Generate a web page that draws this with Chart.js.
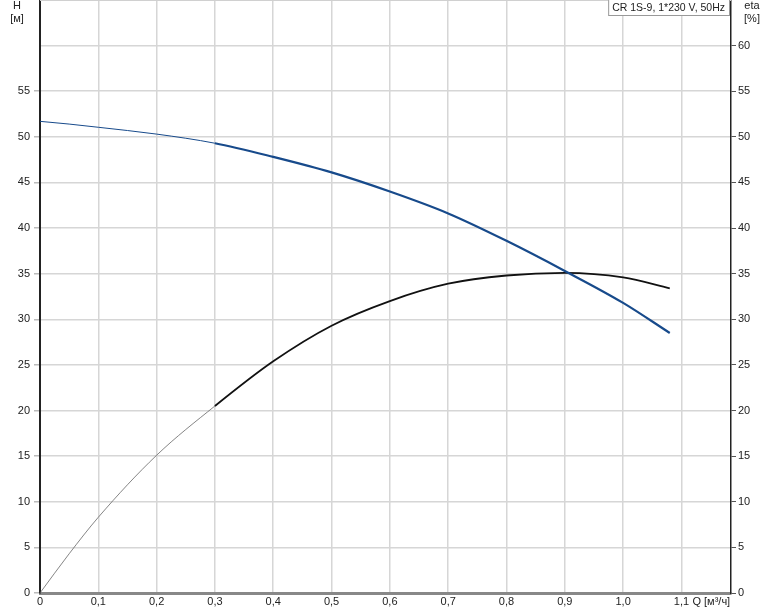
<!DOCTYPE html>
<html>
<head>
<meta charset="utf-8">
<script src="https://cdn.jsdelivr.net/npm/chart.js@4.4.1/dist/chart.umd.min.js"></script>
<style>
  html, body { margin: 0; padding: 0; background: #fff; }
  #wrap { width: 774px; height: 611px; position: relative; }
</style>
</head>
<body>
<div id="wrap"><canvas id="pumpCurve"></canvas></div>
<script>
// Q [м³/ч]
const qValues = [0, 0.05, 0.1, 0.2, 0.3, 0.4, 0.5, 0.6, 0.7, 0.8, 0.9, 1.0, 1.08];
// H [м]
const headValues = [51.7, 51.4, 51.05, 50.3, 49.3, 47.8, 46.1, 44.0, 41.6, 38.6, 35.3, 31.8, 28.5];
// eta [%]
const etaValues = [0, 4.3, 8.3, 15.1, 20.5, 25.4, 29.3, 32.0, 33.9, 34.8, 35.1, 34.6, 33.4];

const xTicks = [0, 0.1, 0.2, 0.3, 0.4, 0.5, 0.6, 0.7, 0.8, 0.9, 1.0, 1.1];
const yTicks = [0, 5, 10, 15, 20, 25, 30, 35, 40, 45, 50, 55, 60];
const leftLabelMax = 55;
const thinUntil = 0.3;

const titleText = 'CR 1S-9, 1*230 V, 50Hz';
const FONT = '"Liberation Sans", Arial, sans-serif';

function toPoints(ys) {
    return qValues.map((q, i) => ({ x: q, y: ys[i] }));
}

// убираем отступы, которые Chart.js резервирует под крайние подписи
function fixSize(prop, size) {
    return s => {
        s[prop] = size;
        s.paddingTop = 0;
        s.paddingBottom = 0;
        s.paddingLeft = 0;
        s.paddingRight = 0;
    };
}

// верхняя граница поля графика
const frameTop = {
    id: 'frameTop',
    beforeDatasetsDraw(chart) {
        const c = chart.ctx;
        const a = chart.chartArea;
        c.save();
        c.strokeStyle = '#d0d0d0';
        c.lineWidth = 2;
        c.beginPath();
        c.moveTo(a.left, a.top);
        c.lineTo(a.right, a.top);
        c.stroke();
        c.restore();
    }
};

const labelsPlugin = {
    id: 'labelsPlugin',
    afterDraw(chart) {
        const c = chart.ctx;
        const area = chart.chartArea;
        const xs = chart.scales.x;
        c.save();
        c.font = '11px ' + FONT;
        c.fillStyle = '#222';
        c.textBaseline = 'middle';

        // подписи осей
        c.textAlign = 'center';
        c.fillText('H', 17, 6);
        c.fillText('[м]', 17, 19);
        c.fillText('eta', 752, 6);
        c.fillText('[%]', 752, 19);

        c.textAlign = 'left';
        c.fillText('Q [м³/ч]', xs.getPixelForValue(1.1) + 11, 602);

        // рамка с названием
        c.font = '10.5px ' + FONT;
        const w = c.measureText(titleText).width + 8;
        const bx = area.right - w - 2;
        c.fillStyle = '#fff';
        c.fillRect(bx, -1, w, 16);
        c.strokeStyle = '#999';
        c.lineWidth = 1;
        c.strokeRect(bx + 0.5, -0.5, w, 16);
        c.fillStyle = '#222';
        c.textAlign = 'center';
        c.fillText(titleText, bx + w / 2, 8);
        c.restore();
    }
};

const ctx = document.getElementById('pumpCurve');
new Chart(ctx, {
    type: 'line',
    data: {
        datasets: [
            {
                label: 'H',
                data: toPoints(headValues),
                yAxisID: 'y',
                borderColor: '#174a8b',
                borderWidth: 2,
                pointRadius: 0,
                cubicInterpolationMode: 'monotone',
                segment: {
                    borderWidth: s => s.p0.parsed.x < thinUntil ? 1 : 2.2
                }
            },
            {
                label: 'eta',
                data: toPoints(etaValues),
                yAxisID: 'y',
                borderColor: '#111',
                borderWidth: 2,
                pointRadius: 0,
                cubicInterpolationMode: 'monotone',
                segment: {
                    borderWidth: s => s.p0.parsed.x < thinUntil ? 0.8 : 1.8,
                    borderColor: s => s.p0.parsed.x < thinUntil ? '#666' : '#111'
                }
            }
        ]
    },
    options: {
        responsive: true,
        maintainAspectRatio: false,
        animation: false,
        layout: { padding: 0 },
        plugins: {
            legend: { display: false },
            tooltip: { enabled: false }
        },
        scales: {
            x: {
                type: 'linear',
                min: 0,
                max: 1.185,
                afterBuildTicks: s => { s.ticks = xTicks.map(v => ({ value: v })); },
                afterFit: fixSize('height', 18),
                ticks: {
                    padding: 2,
                    maxRotation: 0,
                    autoSkip: false,
                    color: '#222',
                    font: { family: FONT, size: 11 },
                    callback: v => v === 0 ? '0' : v.toFixed(1).replace('.', ',')
                },
                grid: { color: '#d6d6d6', lineWidth: 1.5, drawTicks: false },
                border: { color: '#888', width: 3 }
            },
            y: {
                type: 'linear',
                position: 'left',
                min: 0,
                max: 65,
                afterBuildTicks: s => { s.ticks = yTicks.map(v => ({ value: v })); },
                afterFit: fixSize('width', 40),
                ticks: {
                    padding: 4,
                    autoSkip: false,
                    color: '#222',
                    font: { family: FONT, size: 11 },
                    callback: v => v <= leftLabelMax ? String(v) : ''
                },
                grid: {
                    color: '#d6d6d6',
                    lineWidth: 1.5,
                    tickLength: 6,
                    tickColor: c => c.tick && c.tick.value > leftLabelMax ? 'rgba(0,0,0,0)' : '#bbb'
                },
                border: { color: '#222', width: 2 }
            },
            y1: {
                type: 'linear',
                position: 'right',
                min: 0,
                max: 65,
                afterBuildTicks: s => { s.ticks = yTicks.map(v => ({ value: v })); },
                afterFit: fixSize('width', 43),
                ticks: {
                    padding: 2,
                    autoSkip: false,
                    color: '#222',
                    font: { family: FONT, size: 11 },
                    callback: v => String(v)
                },
                grid: {
                    drawOnChartArea: false,
                    tickLength: 5,
                    tickColor: '#555'
                },
                border: { color: '#222', width: 1.5 }
            }
        }
    },
    plugins: [frameTop, labelsPlugin]
});
</script>
</body>
</html>
